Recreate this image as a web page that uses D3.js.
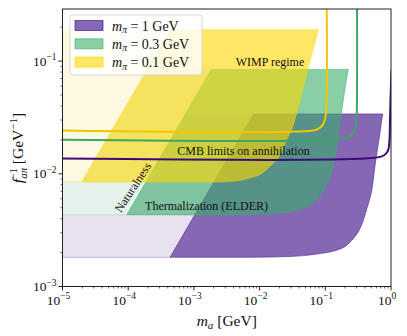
<!DOCTYPE html>
<html>
<head>
<meta charset="utf-8">
<script src="https://cdn.jsdelivr.net/npm/d3@7"></script>
<style>
body { margin: 0; background: #fff; }
text { font-family: "Liberation Serif", "DejaVu Serif", serif; fill: #111; }
</style>
</head>
<body>
<svg id="chart" width="407" height="336"></svg>
<script>

// axes
const xDomain = [1e-5, 1]
const yDomain = [1e-3, 0.29]
const xTicks = [1e-5, 1e-4, 1e-3, 1e-2, 1e-1, 1]
const xTickExp = ['\u22125', '\u22124', '\u22123', '\u22122', '\u22121', '0']
const yTicks = [1e-3, 1e-2, 1e-1]
const yTickExp = ['\u22123', '\u22122', '\u22121']

// legend labels, one per pion mass
const massLabels = ['1', '0.3', '0.1']

// regions excluded by naturalness (left of the diagonal)
const purpleFaint = [[1e-5, 0.001815], [4.33e-4, 0.001815], [8.1e-3, 0.034], [1e-5, 0.034]]
const greenFaint = [[1e-5, 0.00432], [9.48e-5, 0.00432], [1.85e-3, 0.0844], [1e-5, 0.0844]]
const yellowFaint = [[1e-5, 0.00844], [1.96e-5, 0.00844], [4.42e-4, 0.19], [1e-5, 0.19]]

// thermalization (ELDER) lower edge, naturalness corner first, upper right corner last
const purpleLow = [[4.33e-4, 0.001815], [7.15e-3, 0.001815], [0.029, 0.001845], [0.074, 0.00194],
	[0.1675, 0.00215], [0.2377, 0.00247], [0.375, 0.0038], [0.4266, 0.00484], [0.532, 0.00838],
	[0.57, 0.01167], [0.656, 0.0201], [0.748, 0.034]]
const purpleTopLeft = [8.1e-3, 0.034]

const greenLow = [[9.48e-5, 0.00432], [3.55e-3, 0.00432], [0.01439, 0.00442], [0.029, 0.00461],
	[0.0412, 0.00484], [0.074, 0.00593], [0.0989, 0.00757], [0.1324, 0.01167], [0.156, 0.0201],
	[0.188, 0.0452], [0.224, 0.0844]]
const greenTopLeft = [1.85e-3, 0.0844]

const yellowLow = [[1.96e-5, 0.00844], [1.76e-3, 0.00844], [4.22e-3, 0.00864], [7.15e-3, 0.00923],
	[0.01015, 0.00986], [0.01439, 0.01167], [0.02047, 0.01479], [0.0258, 0.0201], [0.0326, 0.0272],
	[0.0412, 0.0452], [0.0565, 0.092], [0.0782, 0.19]]
const yellowTopLeft = [4.42e-4, 0.19]

// CMB limits on annihilation
const purpleCMB = [[1e-5, 0.01364], [0.402, 0.01364], [0.722, 0.01429], [0.839, 0.0151], [0.91, 0.01637],
	[0.949, 0.0201], [0.966, 0.0301], [0.9826, 0.0452], [1.0176, 0.0832]]
const greenCMB = [[1e-5, 0.02007], [0.131, 0.02007], [0.198, 0.0209], [0.2377, 0.0215], [0.2735, 0.0236],
	[0.293, 0.0272], [0.3006, 0.0334], [0.304, 0.0452], [0.304, 0.4]]
const yellowCMB = [[1e-5, 0.02424], [0.065, 0.02424], [0.0774, 0.0251], [0.0891, 0.0267], [0.0973, 0.0295],
	[0.1025, 0.0347], [0.105, 0.0452], [0.105, 0.4]]

// annotations [x, f, text, rotation]
const notes = [
	[0.0144, 0.0902, 'WIMP regime', 0],
	[5.69e-3, 0.01466, 'CMB limits on annihilation', 0],
	[1.556e-3, 0.0048, 'Thermalization (ELDER)', 0],
	[1.18e-4, 0.00757, 'Naturalness', -57]
]


const svg = d3.select('#chart')

const mLeft = 62.5, mRight = 391, mTop = 9, mBottom = 286.5

const x = d3.scaleLog().domain(xDomain).range([mLeft, mRight])
const y = d3.scaleLog().domain(yDomain).range([mBottom, mTop])

svg.append('defs').append('clipPath').attr('id', 'clip')
	.append('rect')
	.attr('x', mLeft).attr('y', mTop)
	.attr('width', mRight - mLeft).attr('height', mBottom - mTop)

const plot = svg.append('g').attr('clip-path', 'url(#clip)')

const line = d3.line().x(d => x(d[0])).y(d => y(d[1]))
const smooth = d3.line().x(d => x(d[0])).y(d => y(d[1])).curve(d3.curveMonotoneX)

const series = [
	{ faint: purpleFaint, low: purpleLow, corner: purpleTopLeft, cmb: purpleCMB,
		fill: 'rgb(53,2,130)', faintFill: '#e8e2f0', faintEdge: '#c7b6de', lineColor: '#3d0b78' },
	{ faint: greenFaint, low: greenLow, corner: greenTopLeft, cmb: greenCMB,
		fill: 'rgb(57,175,107)', faintFill: '#e6f3ec', faintEdge: '#b7e0c8', lineColor: '#39a866' },
	{ faint: yellowFaint, low: yellowLow, corner: yellowTopLeft, cmb: yellowCMB,
		fill: 'rgb(255,215,0)', faintFill: '#fdf8e2', faintEdge: '#f6e7a0', lineColor: '#f2c500' }
]

series.forEach(function(s){

	plot.append('path')
		.attr('d', line(s.faint) + 'Z')
		.attr('fill', s.faintFill)
		.attr('stroke', 'none')

	plot.append('path')
		.attr('d', line([s.faint[0], s.faint[1]]))
		.attr('fill', 'none')
		.attr('stroke', s.faintEdge)
		.attr('stroke-width', 1)
})

series.forEach(function(s){

	plot.append('path')
		.attr('d', smooth(s.low) + 'L' + x(s.corner[0]) + ',' + y(s.corner[1]) + 'Z')
		.attr('fill', s.fill)
		.attr('fill-opacity', 0.6)
		.attr('stroke', s.fill)
		.attr('stroke-opacity', 0.6)
		.attr('stroke-width', 0.8)
})

series.forEach(function(s){

	plot.append('path')
		.attr('d', d3.line().x(d => x(d[0])).y(d => y(d[1])).curve(d3.curveCatmullRom.alpha(0.5))(s.cmb))
		.attr('fill', 'none')
		.attr('stroke', s.lineColor)
		.attr('stroke-width', 2)
})

notes.forEach(function(n){

	plot.append('text')
		.attr('transform', 'translate(' + x(n[0]) + ',' + y(n[1]) + ') rotate(' + n[3] + ')')
		.attr('text-anchor', 'middle')
		.attr('dominant-baseline', n[3] ? 'central' : 'auto')
		.attr('font-size', 12)
		.text(n[2])
})


// frame
svg.append('rect')
	.attr('x', mLeft).attr('y', mTop)
	.attr('width', mRight - mLeft).attr('height', mBottom - mTop)
	.attr('fill', 'none')
	.attr('stroke', '#222')
	.attr('stroke-width', 1)

// minor ticks
let xMinor = []
let yMinor = []
for (let e = -5; e < 0; e++){
	for (let k = 2; k < 10; k++) xMinor.push(k * Math.pow(10, e))
}
for (let e = -3; e < 0; e++){
	for (let k = 2; k < 10; k++){
		let v = k * Math.pow(10, e)
		if (v < yDomain[1]) yMinor.push(v)
	}
}

svg.selectAll('.xminor')
	.data(xMinor)
	.enter()
	.append('line')
	.attr('x1', d => x(d)).attr('x2', d => x(d))
	.attr('y1', mBottom).attr('y2', mBottom + 2)
	.attr('stroke', '#222')
	.attr('stroke-width', 0.7)

svg.selectAll('.yminor')
	.data(yMinor)
	.enter()
	.append('line')
	.attr('y1', d => y(d)).attr('y2', d => y(d))
	.attr('x1', mLeft).attr('x2', mLeft - 2)
	.attr('stroke', '#222')
	.attr('stroke-width', 0.7)

svg.selectAll('.xmajor')
	.data(xTicks)
	.enter()
	.append('line')
	.attr('x1', d => x(d)).attr('x2', d => x(d))
	.attr('y1', mBottom).attr('y2', mBottom + 4)
	.attr('stroke', '#222')

svg.selectAll('.ymajor')
	.data(yTicks)
	.enter()
	.append('line')
	.attr('y1', d => y(d)).attr('y2', d => y(d))
	.attr('x1', mLeft).attr('x2', mLeft - 4)
	.attr('stroke', '#222')

// tick labels
let xl = svg.selectAll('.xlabel')
	.data(xTicks)
	.enter()
	.append('text')
	.attr('x', d => x(d) - 4)
	.attr('y', mBottom + 18)
	.attr('text-anchor', 'middle')
	.attr('font-size', 13.5)

xl.append('tspan').text('10')
xl.append('tspan').attr('dy', -5.5).attr('font-size', 9.5).text((d, i) => xTickExp[i])

let yl = svg.selectAll('.ylabel')
	.data(yTicks)
	.enter()
	.append('text')
	.attr('x', mLeft - 6)
	.attr('y', d => y(d) + 4.5)
	.attr('text-anchor', 'end')
	.attr('font-size', 13.5)

yl.append('tspan').text('10')
yl.append('tspan').attr('dy', -5.5).attr('font-size', 9.5).text((d, i) => yTickExp[i])

// axis titles
let xt = svg.append('text')
	.attr('x', (mLeft + mRight) / 2)
	.attr('y', 326)
	.attr('text-anchor', 'middle')
	.attr('font-size', 15.5)

xt.append('tspan').attr('font-style', 'italic').text('m')
xt.append('tspan').attr('font-style', 'italic').attr('font-size', 11).attr('dy', 3).text('a')
xt.append('tspan').attr('dy', -3).text(' [GeV]')

let yt = svg.append('text')
	.attr('transform', 'translate(23,148) rotate(-90)')
	.attr('text-anchor', 'middle')
	.attr('font-size', 15.5)

yt.append('tspan').attr('font-style', 'italic').text('f')
yt.append('tspan').attr('font-style', 'italic').attr('font-size', 11).attr('dy', 4).text('a\u03c0')
yt.append('tspan').attr('font-size', 11).attr('dx', -12).attr('dy', -10).text('\u22121')
yt.append('tspan').attr('dy', 6).text(' [GeV')
yt.append('tspan').attr('font-size', 11).attr('dy', -6).text('\u22121')
yt.append('tspan').attr('dy', 6).text(']')

// legend
const legend = svg.append('g')

legend.append('rect')
	.attr('x', 70).attr('y', 15)
	.attr('width', 132).attr('height', 60)
	.attr('rx', 3)
	.attr('fill', 'white')
	.attr('fill-opacity', 0.8)
	.attr('stroke', '#d6d6d6')

series.forEach(function(s, i){

	legend.append('rect')
		.attr('x', 75).attr('y', 20.5 + i * 18.3)
		.attr('width', 28).attr('height', 10)
		.attr('fill', s.fill)
		.attr('fill-opacity', 0.6)
		.attr('stroke', s.fill)
		.attr('stroke-opacity', 0.6)

	let t = legend.append('text')
		.attr('x', 112).attr('y', 30.5 + i * 18.3)
		.attr('font-size', 14)

	t.append('tspan').attr('font-style', 'italic').text('m')
	t.append('tspan').attr('font-style', 'italic').attr('font-size', 9.5).attr('dy', 2.5).text('\u03c0')
	t.append('tspan').attr('dy', -2.5).text(' = ' + massLabels[i] + ' GeV')
})

</script>
</body>
</html>
